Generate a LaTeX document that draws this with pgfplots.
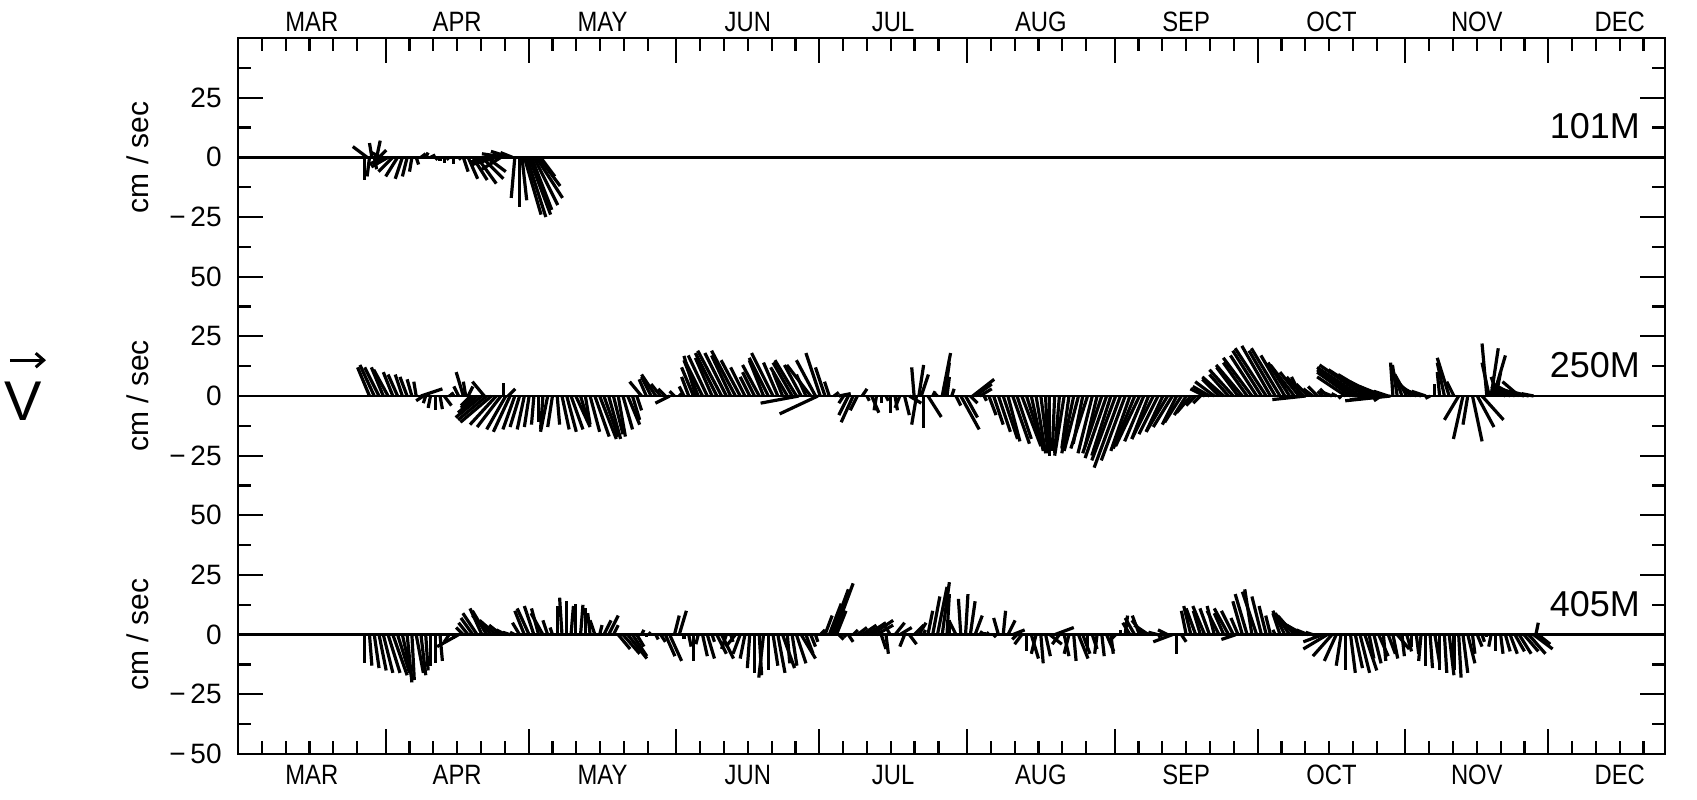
\documentclass[border=0pt]{standalone}
\usepackage{fontspec}
\setmainfont{Liberation Sans}
\newfontfamily\condfont{Liberation Sans}[FakeStretch=0.85]
\usepackage{pgfplots}
\pgfplotsset{compat=1.18}
\usepackage{pgfplotstable}
\usetikzlibrary{arrows.meta}

% t = days since 1 March, u (east), v (north) in cm/sec
% 101M
\pgfplotstableread{
t u v
26.6 0 -9.5
27.1 -6 4.5
27.6 -1 -8
28.1 -1 6
28.6 1 -5
29.1 1.5 7
29.6 3 3
30.0 -4 2
30.5 -6 -3
31.5 -7 -4
32.5 -6 -6
33.5 -5 -8
34.5 -3 -9
35.5 -2 -8
36.5 -1 -6
37.4 1 -3
38.4 2 1.5
39.4 1 2
40.4 2 1
41.4 1 -1
42.4 0 -1.5
43.3 0 -2.5
44.3 -1 -1
45.3 0 -3
46.3 1 -1
47.3 2 -6
48.3 4 -9
49.3 6 -9.5
50.2 8 -11
51.2 9 -9
52.2 8 -6
53.2 -9 -2
54.2 -10 -3
55.2 -8 -5
56.2 -10 1.5
57.1 -8 2.5
57.6 -5 2
58.1 -1.5 -17
59.1 0 -21
59.6 2 -18
60.1 7 -24
60.6 8 -25
61.1 9 -24
61.6 8.5 -22
62.1 10 -20
62.6 11 -17
63.1 9 -12
63.5 6 -8
}\dA

% 250M
\pgfplotstableread{
t u v
27.6 -5 12
28.6 -6 13
29.6 -6 12
30.5 -5 12
31.5 -6 11
32.5 -4 10
33.5 -4 9
34.5 -3 9
35.5 -3 8
36.5 -2 7
37.4 -1 6
38.4 9 3
38.9 -3 -2
39.4 -1 -3
40.4 -1 -5
41.4 0 -6
42.4 1 -5.5
43.3 3 -4
44.3 2 1
45.3 -1 1.5
46.3 -2 4
47.3 -3 10
47.8 -1 6
48.3 2 4
48.8 -4 -4
49.3 -5 -5
50.2 -8 -7
51.2 -11 -9
51.7 -5 6
52.2 -12 -10
53.2 -13 -11
54.2 -11 -12
55.2 -10 -13
55.7 0 5.5
56.2 -8 -14
56.7 3 3
57.1 -7 -15
58.1 -5 -14
59.1 -4 -13
60.1 -3 -14
61.1 -2 -13
62.1 -1 -12
63.1 0 -11
64.0 -1 -14
65.0 -3 -15
66.0 -2 -13
67.0 1 -12
68.0 3 -14
69.0 4 -15
69.9 5 -14
70.9 6 -13
71.9 3 -10
72.9 2 -12
73.9 4 -15
74.9 6 -17
75.9 7 -18
76.8 6 -17
77.8 5 -18
78.8 4 -16
79.8 3 -17
80.8 4 -14
81.8 5 -12
82.8 3 -10
83.7 2 -6
84.7 -5 6
85.7 -3 7
86.7 -4 8
87.7 -6 9
88.7 -4 5
89.7 -3 3
90.6 -6 -3
91.6 -2 2
92.6 1 1
93.6 -2 4
94.6 -3 8
95.6 -5 12
96.1 -5 16.8
96.6 -6 15
97.5 -7 14
98.5 -8 17
99.5 -7 16
100.5 -9 18
101.5 -10 19
102.5 -9 18
103.4 -8 17
104.4 -10 19
105.4 -8 15
106.4 -6 12
107.4 -4 8
108.4 -5 10
109.4 -7 13
110.3 -6 15
111.3 -8 16
112.3 -9 18
113.3 -6 14
114.3 -4 10
115.3 -7 12
116.3 -8 14
117.2 -9 15
117.7 -16 -3
118.2 -7 13
119.2 -4 9
120.2 -10 13
121.2 -8 15
121.7 -16 -7.5
122.2 -6 18
123.2 -4 12
124.1 -2 6
125.1 2 1.5
126.1 5 1
127.1 -2 -3
128.1 -4 -8
129.1 -5 -11
130.0 -3 -6
131.0 2 3
132.0 1 -2
133.0 3 -7
134.0 -1 -6
135.0 0 -3
136.0 1 -2
136.9 0 -7
137.9 1 -6
138.9 -2 -5
139.9 2 -8
140.9 5 -3
141.9 -1 12
142.4 -2 -12
142.9 2 13
143.4 3 9
143.8 0 -13.5
144.8 5.6 -8.8
145.8 1 2
146.8 -1 1
147.8 3.5 18
148.3 2 14
148.8 1 8
149.8 1 3
150.7 2 -4
151.7 7.7 -14
152.7 5 -9
153.7 3 -3
154.2 9 7
154.7 7 5
155.7 5 3
156.6 1 -2
157.6 3 -8
158.6 4 -12
159.6 5 -15
160.6 6 -18
161.6 5 -19
162.6 7 -20
163.5 6 -18
164.5 8 -21
165.5 7 -22
166.5 5 -23
167.5 4 -24
168.5 3 -23
169.5 1 -24
170.4 0 -25
171.4 -1 -23
172.4 -2 -24
173.4 -4 -25
174.4 -3 -22
175.4 -5 -24
176.4 -6 -23
177.3 -4 -20
178.3 -7 -22
179.3 -6 -24
180.3 -5 -21
181.3 -8 -24
182.3 -9 -26
183.2 -8 -25
184.2 -10 -27
185.2 -11 -30
186.2 -10 -27
187.2 -8 -23
188.2 -9 -22
189.2 -10 -21
190.1 -8 -19
191.1 -7 -18
192.1 -9 -18
193.1 -8 -16
194.1 -7 -15
195.1 -9 -15
196.1 -8 -13
197.0 -6 -12
198.0 -7 -11
199.0 -5 -8
200.0 -6 -7
201.0 -4 -4
202.0 -3 -3
202.9 -6 3
203.9 -7 4
204.9 -8 6
205.9 -7 7
206.9 -9 8
207.9 -8 9
208.9 -10 11
209.9 -9 12
210.8 -11 13
211.8 -10 14
212.8 -12 16
213.8 -11 17
214.8 -12 19
215.8 -13 20
216.7 -12 21
217.7 -11 19
218.7 -12 20
219.7 -10 17
220.7 -9 14
221.7 -10 13
222.7 -8 10
223.1 -4 8
223.6 -7 8
224.1 -14 -1.5
224.6 -5 5
225.6 -4 3
226.6 -4 4
227.6 -2 2
228.6 -3 3
229.6 -5 2
230.5 -2 1
231.5 -1 -1
232.5 -12 8
233.5 -14 10
234.5 -16 11
235.5 -18 12
236.5 -19 13
237.4 -17 11
238.4 -15 9
239.4 -12 6
239.9 -3 -2
240.4 -10 4
240.9 -15 -1.5
241.4 -6 2
241.9 -19 -2
242.4 -1 14
243.3 -2 13
244.3 -4 11
245.3 -5 9
246.3 -7 7
247.3 -8 5
248.3 -8 3
249.3 -6 2
250.2 -2 -1
251.2 0 5
252.2 -1 10
253.2 -3 14
254.2 -5 16
255.2 -3 6
256.2 -6 -10
257.1 -4 -18
258.1 -2 -12
259.1 4 -19
260.1 7 -13
261.1 9 -10
262.1 -2 22
262.6 -3 14
263.0 3 20
263.5 5 17
264.0 2 10
264.5 -3 8
265.0 -1 2
266.0 -6 3
267.0 -8 4
268.0 -9 5
268.9 -7 6
269.9 -10 3
270.9 -8 2
271.9 -5 1
}\dB

% 405M
\pgfplotstableread{
t u v
26.6 0 -12
27.6 1 -13
28.6 2 -14
29.6 3 -15
30.5 4 -16
31.5 5 -16
32.5 6 -17
33.5 5 -16
34.5 4 -18
35.5 2 -20
36.5 1 -19
37.4 3 -16
38.4 2 -17
39.4 1 -15
40.4 0 -13
41.4 0 -12
42.4 1 -11
44.3 -2 -3
45.3 0 -2
46.3 -9 -5
47.3 -3 3
48.3 -4 5
49.3 -5 7
50.2 -6 9
51.2 -5 11
52.2 -6 10
53.2 -8 8
54.2 -7 6
55.2 -5 4
56.2 -4 2
57.1 -3 1
58.1 -2 1
59.1 -3 5
60.1 -4 10
61.1 -5 11
62.1 -4 12
63.1 -3 11
64.0 -5 9
65.0 -2 6
66.0 -1 3
67.0 0 12
68.0 -1 15.5
69.0 0 14
69.9 1 12
70.9 0 13
71.9 1 12.5
72.9 0 11
73.9 -1 9
74.9 -2 6
75.9 1 4
76.8 3 6
77.8 4 8
78.8 2 4
79.8 5 -6
80.8 7 -8
81.8 8 -10
82.8 6 -9
83.7 3 -5
84.7 1 2
85.7 0 -1
86.7 -1 1
87.7 1 -2
88.7 2 -3
89.7 4 -9
90.6 5 -11
91.6 2 8
92.6 3 10
93.6 0 -2
94.6 1 -5
95.6 0 -11
96.6 -1 -4
97.5 2 -9
98.5 3 -10
99.5 1 -3
100.5 4 -8
101.5 5 -10
102.5 -2 -6
103.4 1 -3
104.4 -4 -5
105.4 -3 -8
106.4 -2 -10
107.4 -1 -14
108.4 0 -16
109.4 1 -17
110.3 -2 -18
111.3 0 -15
112.3 2 -13
113.3 3 -16
114.3 5 -14
115.3 1 -12
116.3 2 -13
117.2 4 -12
118.2 6 -10
119.2 3 -8
120.2 2 -5
121.2 1 -3
122.2 2 2
123.2 3 8
124.1 5 13
124.6 7 19
125.1 8 21.5
125.6 4 10
126.1 2 -2
127.1 1 -1
128.1 2 -3
129.1 2 2
130.0 4 3
131.0 6 4
132.0 8 5
133.0 9 6
134.0 7 4
135.0 2 -6
136.0 1 -8
136.9 -3 5
137.9 4 5
138.9 5 3
139.9 -2 -5
140.9 3 -4
141.9 4 4
142.9 3 5
143.8 1 2
144.8 2 10
145.8 3 16
146.8 4 20
147.8 3 22
148.8 1 17
149.3 0 6
150.7 -3 6
151.7 -1 15
152.7 1 17
153.7 2 14
154.7 3 8
155.7 1 1.5
156.6 0 1
157.6 -1 1
158.6 1 -1
159.6 -2 7
160.6 1 10
161.6 3 6
162.6 5 2
163.5 -2 -2
164.5 -3 -4
165.5 0 -7
166.5 3 -10
167.5 -2 -8
168.5 1 -12
169.5 2 -9
170.4 5 -4
171.4 8 3
172.4 -3 -4
173.4 2 -9
174.4 -2 -8
175.4 1 -11
176.4 4 -10
177.3 3 -8
178.3 0 -7
179.3 2 -6
180.3 -1 -8
181.3 1 -9
182.3 3 -7
183.2 1 -8
184.2 -2 -2
185.2 0 2
186.2 1 8
187.2 -3 5
188.2 -4 7
189.2 -3 8
190.1 -5 6
191.1 -6 4
192.1 -2 1
193.1 -4 1
194.1 -2 -1
195.1 -4 2
196.1 -8 -3
197.0 0 -8
198.0 2 -3
199.0 -2 10
200.0 -3 12
201.0 -4 11
202.0 -3 10
202.9 -5 12
203.9 -4 11
204.9 -3 12
205.9 -5 10
206.9 -4 9
207.9 -6 11
208.9 -5 10
209.4 -6 -2
209.9 -3 7
210.8 -4 14
211.8 -5 17
212.8 -3 19
213.8 -6 18
214.8 -4 16
215.8 -3 12
216.7 -2 8
217.7 -1 2
218.7 -3 9
219.7 -5 10
220.7 -6 9
221.7 -7 8
222.7 -8 6
223.6 -7 4
224.6 -5 2
225.6 -3 1
226.6 -2 -1
227.6 -8 -3
228.6 -10 -6
229.6 -8 -9
230.5 -5 -11
231.5 -2 -13
232.5 0 -15
233.5 2 -16
234.5 3 -14
235.5 4 -16
236.5 5 -15
237.4 2 -10
238.4 3 -12
239.4 4 -9
240.4 1 -11
241.4 3 -8
242.4 2 -10
243.3 5 -6
244.3 1 -9
245.3 2 -7
246.3 0 -5
247.3 1 -8
248.3 -1 -11
249.3 0 -13
250.2 1 -14
251.2 2 -12
252.2 0 -15
253.2 1 -16
254.2 2 -17
255.2 0 -15
256.2 1 -18
257.1 2 -16
258.1 3 -12
259.1 1 -8
260.1 2 -5
261.1 1 -3
262.1 0 -1
263.0 -1 -5
264.0 0 -7
265.0 1 -8
266.0 2 -7
267.0 3 -8
268.0 4 -7
268.9 5 -8
269.9 6 -7
270.9 7 -8
271.9 8 -6
272.4 1 5
272.9 5 -4
}\dC

\begin{document}
\begin{tikzpicture}
\path[use as bounding box] (-119pt,-22.5pt) rectangle (729.5pt,377pt);
\begin{axis}[
  at={(0,0)}, anchor=south west,
  scale only axis, width=713.5pt, height=358pt,
  xmin=0, xmax=299.5, ymin=-50, ymax=250,
  axis line style={line width=1.3pt},
  tick style={line width=1.1pt, black},
  tick align=inside,
  major tick length=12.5pt, minor tick length=6.5pt,
  xtick={0,31,61,92,122,153,184,214,245,275},
  minor xtick={5,10,15,20,25,36,41,46,51,56,66,71,76,81,86,97,102,107,112,117,127,132,137,142,147,158,163,168,173,178,189,194,199,204,209,219,224,229,234,239,250,255,260,265,270,280,285,290,295},
  xticklabels={},
  ytick={-50,-25,...,225},
  minor ytick={-37.5,-12.5,...,237.5},
  yticklabels={−\,50,−\,25,0,25,50,−\,25,0,25,50,−\,25,0,25},
  yticklabel style={font=\fontsize{14}{14}\selectfont, inner sep=0pt, xshift=-8pt},
  clip=false,
]
\addplot[black, line width=1.2pt] coordinates {(0,200) (299.5,200)};
\addplot[black, line width=1.2pt] coordinates {(0,100) (299.5,100)};
\addplot[black, line width=1.2pt] coordinates {(0,0) (299.5,0)};
\addplot[black, line width=1.6pt, quiver={u=0.501*\thisrow{u}, v=\thisrow{v}}] table[x=t, y expr=200] {\dA};
\addplot[black, line width=1.6pt, quiver={u=0.501*\thisrow{u}, v=\thisrow{v}}] table[x=t, y expr=100] {\dB};
\addplot[black, line width=1.6pt, quiver={u=0.501*\thisrow{u}, v=\thisrow{v}}] table[x=t, y expr=0] {\dC};

\tikzset{mon/.style={font=\condfont\fontsize{14}{14}\selectfont}}
\node[mon] at ([yshift=8.2pt]axis cs:15.5,250) {MAR};
\node[mon] at ([yshift=8.2pt]axis cs:46,250) {APR};
\node[mon] at ([yshift=8.2pt]axis cs:76.5,250) {MAY};
\node[mon] at ([yshift=8.2pt]axis cs:107,250) {JUN};
\node[mon] at ([yshift=8.2pt]axis cs:137.5,250) {JUL};
\node[mon] at ([yshift=8.2pt]axis cs:168.5,250) {AUG};
\node[mon] at ([yshift=8.2pt]axis cs:199,250) {SEP};
\node[mon] at ([yshift=8.2pt]axis cs:229.5,250) {OCT};
\node[mon] at ([yshift=8.2pt]axis cs:260,250) {NOV};
\node[mon] at ([yshift=8.2pt]axis cs:290,250) {DEC};
\node[mon] at ([yshift=-10.5pt]axis cs:15.5,-50) {MAR};
\node[mon] at ([yshift=-10.5pt]axis cs:46,-50) {APR};
\node[mon] at ([yshift=-10.5pt]axis cs:76.5,-50) {MAY};
\node[mon] at ([yshift=-10.5pt]axis cs:107,-50) {JUN};
\node[mon] at ([yshift=-10.5pt]axis cs:137.5,-50) {JUL};
\node[mon] at ([yshift=-10.5pt]axis cs:168.5,-50) {AUG};
\node[mon] at ([yshift=-10.5pt]axis cs:199,-50) {SEP};
\node[mon] at ([yshift=-10.5pt]axis cs:229.5,-50) {OCT};
\node[mon] at ([yshift=-10.5pt]axis cs:260,-50) {NOV};
\node[mon] at ([yshift=-10.5pt]axis cs:290,-50) {DEC};

\tikzset{cms/.style={font=\fontsize{15}{15}\selectfont, rotate=90}}
\node[cms] at ([xshift=-50pt]axis cs:0,200) {cm / sec};
\node[cms] at ([xshift=-50pt]axis cs:0,100) {cm / sec};
\node[cms] at ([xshift=-50pt]axis cs:0,0) {cm / sec};

\tikzset{dep/.style={anchor=east, font=\fontsize{18}{18}\selectfont}}
\node[dep] at ([xshift=-9pt]axis cs:299.5,213) {101M};
\node[dep] at ([xshift=-9pt]axis cs:299.5,113) {250M};
\node[dep] at ([xshift=-9pt]axis cs:299.5,12.8) {405M};

\node[font=\fontsize{28}{28}\selectfont] at ([xshift=-107.5pt]axis cs:0,98) {V};
\draw[line width=1.5pt, -{Straight Barb[length=4pt,width=7pt]}] ([xshift=-114pt]axis cs:0,115) -- ([xshift=-96pt]axis cs:0,115);
\end{axis}
\end{tikzpicture}
\end{document}
